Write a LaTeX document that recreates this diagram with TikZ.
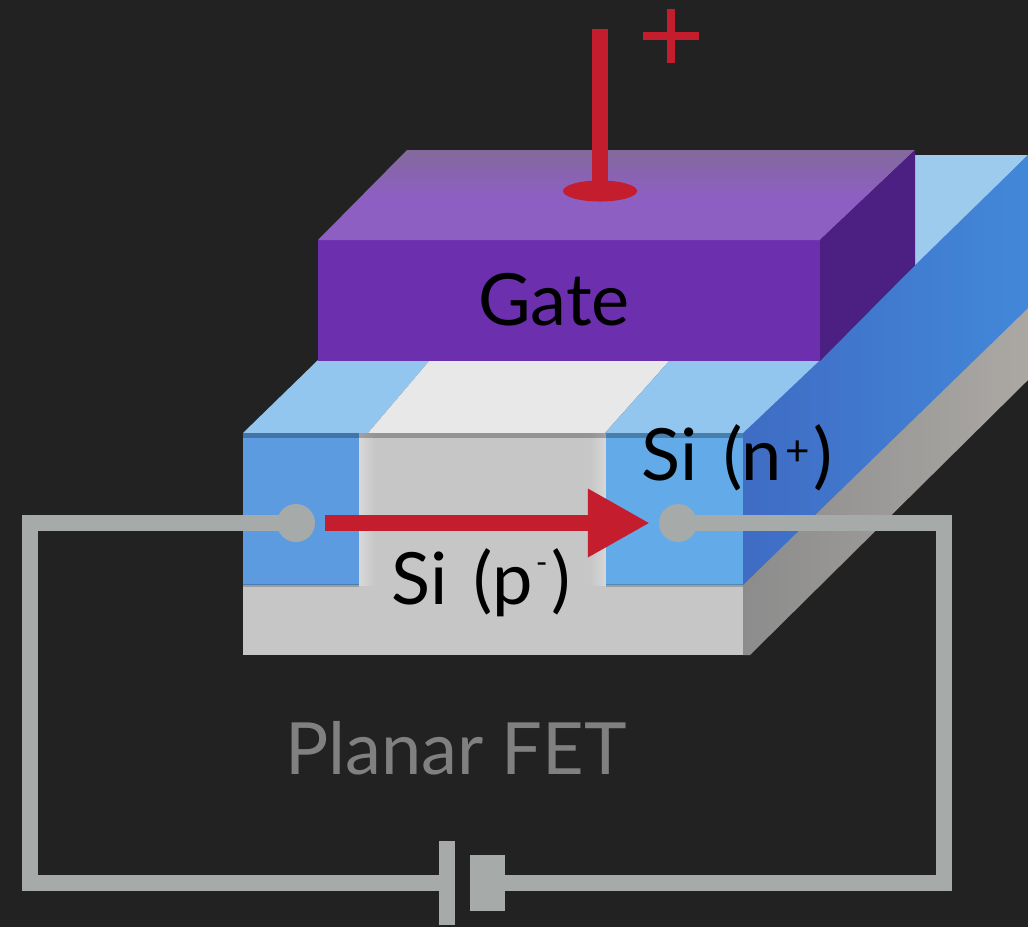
\documentclass[tikz,border=0pt]{standalone}
\usepackage{fontspec}
\setmainfont{Lato}
\usetikzlibrary{arrows.meta,shapes.geometric}
\definecolor{bgdark}{HTML}{222222}
\definecolor{wiregray}{HTML}{A6ABA9}
\definecolor{currentred}{HTML}{C41E2E}
\definecolor{gatefront}{HTML}{6C2FAE}
\definecolor{gatetop}{HTML}{8D5FC2}
\definecolor{gatetopedge}{HTML}{83699B}
\definecolor{gateside}{HTML}{4C1F82}
\definecolor{toplight}{HTML}{93C6EE}
\definecolor{farlight}{HTML}{9DCBEE}
\definecolor{topwhite}{HTML}{E8E8E8}
\definecolor{sigray}{HTML}{C6C6C6}
\definecolor{sigraylight}{HTML}{D8D8D8}
\definecolor{sideblue}{HTML}{4288D8}
\definecolor{sidedark}{HTML}{3F6CC4}
\definecolor{sidegray}{HTML}{8C8C8C}
\definecolor{sidegraylight}{HTML}{ABA8A4}
\definecolor{frontblue}{HTML}{5C9BE0}
\definecolor{frontright}{HTML}{62AAE8}
\definecolor{textgray}{HTML}{808080}
\tikzset{
	wire/.style={draw=wiregray, line width=0.16cm},
	contact/.style={circle, fill=wiregray, inner sep=0pt, outer sep=0pt, minimum size=0.38cm},
	plate/.style={rectangle, fill=wiregray, inner sep=0pt, outer sep=0pt},
	redbar/.style={draw=currentred, line width=0.16cm},
	devicelabel/.style={text=black, inner sep=0pt, font=\fontsize{20.5}{24}\selectfont},
}
\begin{document}
\begin{tikzpicture}[x=0.01cm, y=-0.01cm]
			\useasboundingbox (0,0) rectangle (1028,927);
			\fill[bgdark] (0,0) rectangle (1028,927);

			% Far strip behind the gate
			\fill[farlight] (915,155) -- (1028,155) -- (915,270) -- cycle;

			% Substrate, side faces
			\shade[left color=sidegray, right color=sidegraylight] (743,575) -- (1028,300) -- (1028,380) -- (750,655) -- (743,655) -- cycle;
			\shade[left color=sidedark, right color=sideblue] (743,433) -- (1028,155) -- (1028,308) -- (743,585) -- cycle;

			% Top face
			\fill[toplight] (243,433) -- (318,360) -- (430,360) -- (368,433) -- cycle;
			\fill[topwhite] (368,433) -- (430,360) -- (670,360) -- (605,433) -- cycle;
			\fill[toplight] (605,433) -- (670,360) -- (820,360) -- (743,433) -- cycle;

			% Front face
			\fill[sigray] (243,433) rectangle (743,655);
			\shade[left color=sigraylight, right color=sigray] (359,433) rectangle (375,585);
			\shade[left color=sigray, right color=sigraylight] (590,433) rectangle (606,585);
			\fill[frontblue] (243,433) rectangle (359,585);
			\fill[frontright] (606,433) rectangle (743,585);
			\draw[black, opacity=0.25, line width=0.05cm] (243,435) -- (743,435);
			\draw[black, opacity=0.2, line width=0.03cm] (243,585) -- (359,585);
			\draw[black, opacity=0.2, line width=0.03cm] (606,585) -- (743,585);

			% Gate
			\fill[gatefront] (318,240) rectangle (820,361);
			\shade[top color=gatetopedge, bottom color=gatetop, middle color=gatetop] (318,240) -- (407,150) -- (915,150) -- (820,240) -- cycle;
			\fill[gateside] (820,240) -- (915,150) -- (915,265) -- (820,361) -- cycle;

			% Nodes
			\node[contact] (source) at (296,523) {};
			\node[contact] (drain) at (678,523) {};
			\node[plate, minimum width=0.16cm, minimum height=0.83cm] (plateleft) at (447,883) {};
			\node[plate, minimum width=0.35cm, minimum height=0.56cm] (plateright) at (487,883) {};
			\node[ellipse, fill=currentred, inner sep=0pt, outer sep=0pt, minimum width=0.74cm, minimum height=0.21cm] (gatepad) at (600,191) {};
			\coordinate (gatetopend) at (600,29);
			\coordinate (cornerNW) at (30,523);
			\coordinate (cornerSW) at (30,883);
			\coordinate (cornerSE) at (944,883);
			\coordinate (cornerNE) at (944,523);

			% Labels
			\node[devicelabel] (gatelabel) at (554,300) {Gate};
			\node[devicelabel] (plabel) at (481,583) {Si\hspace{2pt} (p\hspace{1pt}\raisebox{0.44em}{\fontsize{9}{9}\selectfont -}\hspace{1pt})};
			\node[devicelabel] (nlabel) at (737,458) {Si\hspace{2pt} (n\hspace{1pt}\raisebox{0.21em}{\fontsize{12}{12}\selectfont +}\hspace{1pt})};
			\node[devicelabel, text=textgray] (fetlabel) at (456,748) {Planar FET};

			% Circuit
			\draw[wire] (source.center) -- (cornerNW) -- (cornerSW) -- (plateleft.center);
			\draw[wire] (drain.center) -- (cornerNE) -- (cornerSE) -- (plateright.center);

			% Current and gate contact
			\draw[redbar, -{Triangle[length=0.62cm, width=0.64cm]}, shorten <=0.1cm, shorten >=0.09cm] (source) -- (drain);
			\draw[redbar] (gatepad.center) -- (gatetopend);
			\node[rectangle, fill=currentred, inner sep=0pt, minimum width=0.55cm, minimum height=0.08cm] (plusbar) at (671,36) {};
			\node[rectangle, fill=currentred, inner sep=0pt, minimum width=0.08cm, minimum height=0.54cm] (plusstem) at (671,36) {};
		\end{tikzpicture}
\end{document}
